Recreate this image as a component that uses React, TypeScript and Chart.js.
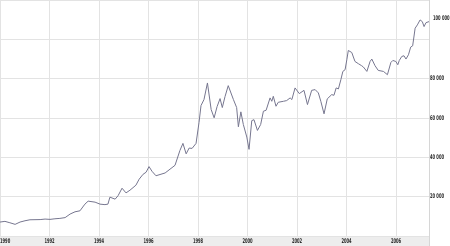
import React, { useEffect, useRef } from "react";
import { Chart, registerables } from "chart.js";

Chart.register(...registerables);

const years: number[] = [
  1990.0, 1990.2, 1990.4, 1990.61, 1990.81, 1991.01, 1991.21, 1991.62, 1991.82, 1992.02,
  1992.22, 1992.42, 1992.63, 1992.83, 1993.03, 1993.23, 1993.43, 1993.56, 1993.84, 1994.04,
  1994.24, 1994.36, 1994.44, 1994.65, 1994.77, 1994.93, 1995.09, 1995.25, 1995.49, 1995.62,
  1995.78, 1995.9, 1996.02, 1996.14, 1996.3, 1996.67, 1997.07, 1997.27, 1997.39, 1997.52,
  1997.64, 1997.76, 1997.92, 1998.04, 1998.12, 1998.24, 1998.38, 1998.53, 1998.65, 1998.77,
  1998.89, 1998.98, 1999.09, 1999.22, 1999.43, 1999.56, 1999.63, 1999.73, 1999.83, 1999.97,
  2000.06, 2000.17, 2000.26, 2000.4, 2000.53, 2000.64, 2000.75, 2000.91, 2000.98, 2001.04,
  2001.15, 2001.24, 2001.45, 2001.58, 2001.72, 2001.79, 2001.92, 2002.09, 2002.28, 2002.42,
  2002.59, 2002.73, 2002.86, 2002.96, 2003.09, 2003.22, 2003.4, 2003.49, 2003.58, 2003.67,
  2003.77, 2003.85, 2003.94, 2004.01, 2004.07, 2004.21, 2004.34, 2004.48, 2004.61, 2004.68,
  2004.82, 2004.95, 2005.02, 2005.15, 2005.28, 2005.49, 2005.65, 2005.79, 2005.87, 2005.99,
  2006.07, 2006.13, 2006.23, 2006.32, 2006.4, 2006.5, 2006.59, 2006.67, 2006.77, 2006.86,
  2006.97, 2007.06, 2007.13, 2007.21, 2007.33,
];

const values: number[] = [
  7090, 7440, 6730, 5920, 7090, 7750, 8250, 8350, 8610, 8450,
  8760, 8960, 9350, 11140, 12300, 12810, 16200, 17720, 17210, 16200,
  15950, 16200, 19750, 18730, 20500, 24300, 21920, 23290, 25820, 28860,
  31390, 32400, 35290, 32910, 30630, 32050, 35950, 43540, 47090, 41770,
  44710, 44550, 47090, 57720, 66330, 69360, 77820, 64300, 60100, 65820,
  69870, 65310, 70880, 76450, 69360, 65310, 55540, 63130, 56700, 50310,
  44050, 58650, 59140, 53670, 56700, 63440, 63940, 70220, 68500, 71030,
  65970, 68000, 68500, 68860, 70220, 69360, 75290, 72400, 74070, 66830,
  74070, 74430, 72760, 68500, 62120, 69720, 71900, 71540, 75290, 74780,
  79490, 83690, 84550, 89610, 94330, 93310, 88750, 87590, 86580, 85920,
  83690, 88750, 89970, 86580, 84200, 83690, 82020, 88250, 89260, 88750,
  87080, 89260, 91290, 91640, 89970, 92150, 96050, 96700, 105660, 107340,
  109870, 109000, 106470, 108500, 109000,
];

const xTickYears: number[] = [1990, 1992, 1994, 1996, 1998, 2000, 2002, 2004, 2006];
const yTickValues: number[] = [0, 20000, 40000, 60000, 80000, 100000, 120000];
const yLabelledValues: number[] = [20000, 40000, 60000, 80000];
const lastLabel = "100 000";

const LABEL_FONT = "bold 6.5px 'DejaVu Sans Condensed', 'DejaVu Sans', sans-serif";

const fmt = (v: number) => {
  const s = String(Math.round(v));
  return s.replace(/\B(?=(\d{3})+(?!\d))/g, " ");
};

export default function App() {
  const ref = useRef<HTMLCanvasElement | null>(null);

  useEffect(() => {
    if (!ref.current) return;

    const decor = {
      id: "decor",
      beforeDraw(chart: any) {
        const { ctx, chartArea } = chart;
        ctx.save();
        ctx.fillStyle = "#ededed";
        ctx.fillRect(0, chartArea.bottom, chartArea.right, chart.height - chartArea.bottom);
        ctx.restore();
      },
      afterDraw(chart: any) {
        const { ctx, chartArea } = chart;
        const xs = chart.scales.x;
        const ys = chart.scales.y;
        ctx.save();
        ctx.strokeStyle = "#d6d6d6";
        ctx.lineWidth = 1;
        ctx.beginPath();
        ctx.moveTo(chartArea.right + 0.5, 0);
        ctx.lineTo(chartArea.right + 0.5, chart.height);
        ctx.stroke();

        ctx.font = LABEL_FONT;
        ctx.fillStyle = "#2a2a2a";
        ctx.textBaseline = "middle";
        // horizontal compression so labels are as narrow as the reference's
        const sx = 14 / ctx.measureText("80 000").width;
        const drawText = (t: string, x: number, y: number, align: "left" | "center") => {
          const w = ctx.measureText(t).width * sx;
          const left = align === "left" ? x : x - w / 2;
          ctx.save();
          ctx.translate(left, y);
          ctx.scale(sx, 1);
          ctx.textAlign = "left";
          ctx.fillText(t, 0, 0);
          ctx.restore();
        };

        const yLab = (chartArea.bottom + chart.height) / 2 + 0.5;
        xTickYears.forEach((yr, i) => {
          const px = xs.getPixelForValue(yr);
          drawText(String(yr), i === 0 ? px : px, yLab, i === 0 ? "left" : "center");
        });

        yLabelledValues.forEach((v) => {
          const py = ys.getPixelForValue(v);
          drawText(fmt(v), chartArea.right + 1, py, "left");
        });

        const lastY = ys.getPixelForValue(values[values.length - 1]);
        drawText(lastLabel, chartArea.right + 4, lastY - 3, "left");
        ctx.restore();
      },
    };

    const chart = new Chart(ref.current, {
      type: "line",
      data: {
        datasets: [
          {
            data: years.map((x, i) => ({ x, y: values[i] })),
            borderColor: "#76768f",
            borderWidth: 1,
            pointRadius: 0,
            tension: 0,
            fill: false,
          },
        ],
      },
      options: {
        animation: false,
        responsive: false,
        maintainAspectRatio: false,
        layout: { padding: 0 },
        plugins: {
          legend: { display: false },
          tooltip: { enabled: false },
        },
        scales: {
          x: {
            type: "linear",
            min: 1990,
            max: 2007.33,
            afterBuildTicks: (scale: any) => {
              scale.ticks = xTickYears.map((v) => ({ value: v }));
            },
            afterFit: (scale: any) => {
              scale.height = 10;
            },
            grid: { color: "#e3e3e3", drawTicks: false, lineWidth: 1 },
            border: { display: false },
            ticks: { display: false },
          },
          y: {
            position: "right",
            min: 0,
            max: 120000,
            afterBuildTicks: (scale: any) => {
              scale.ticks = yTickValues.map((v) => ({ value: v }));
            },
            afterFit: (scale: any) => {
              scale.width = 21;
            },
            grid: { color: "#e3e3e3", drawTicks: false, lineWidth: 1 },
            border: { display: false },
            ticks: { display: false },
          },
        },
      },
      plugins: [decor],
    });

    return () => chart.destroy();
  }, []);

  return (
    <div style={{ position: "fixed", left: 0, top: 0, width: 450, height: 246, background: "#fff" }}>
      <canvas ref={ref} width={450} height={246} style={{ width: 450, height: 246, display: "block" }} />
    </div>
  );
}
